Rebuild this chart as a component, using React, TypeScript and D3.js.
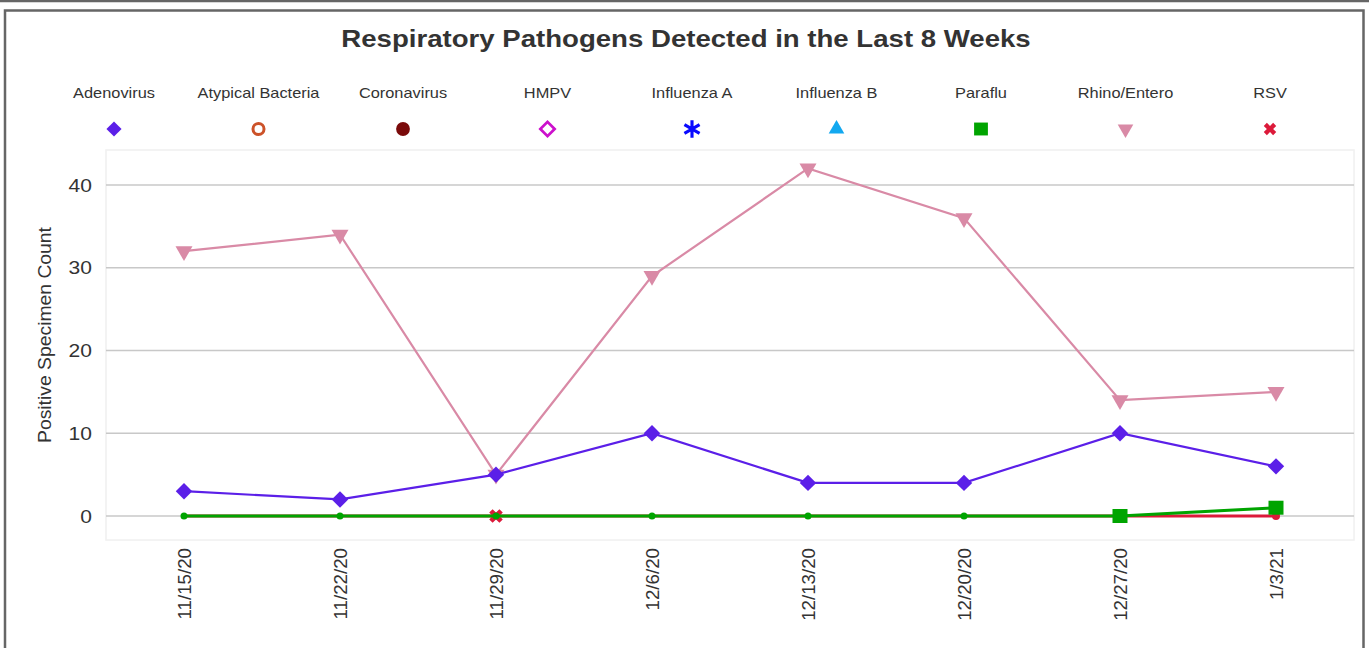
import React from 'react';
import * as d3 from 'd3';

// weeks shown on the x axis
const weeks = ['11/15/20', '11/22/20', '11/29/20', '12/6/20', '12/13/20', '12/20/20', '12/27/20', '1/3/21'];

const adenovirus = [3, 2, 5, 10, 4, 4, 10, 6];
const atypical = [0, 0, 0, 0, 0, 0, 0, 0];
const coronavirus = [0, 0, 0, 0, 0, 0, 0, 0];
const hmpv = [0, 0, 0, 0, 0, 0, 0, 0];
const fluA = [0, 0, 0, 0, 0, 0, 0, 0];
const fluB = [0, 0, 0, 0, 0, 0, 0, 0];
const paraflu = [0, 0, 0, 0, 0, 0, 0, 1];
const rhino = [32, 34, 5, 29, 42, 36, 14, 15];
const rsv = [0, 0, 0, 0, 0, 0, 0, 0];

const yTicks = [0, 10, 20, 30, 40];

const legendNames = ['Adenovirus', 'Atypical Bacteria', 'Coronavirus', 'HMPV', 'Influenza A', 'Influenza B', 'Paraflu', 'Rhino/Entero', 'RSV'];

const W = 1369, H = 648;
const plotLeft = 106, plotRight = 1354, plotTop = 150, plotBottom = 540;
const sx = 1.17; // the original text is drawn a bit wide

const x = d3.scaleBand<string>().domain(weeks).range([plotLeft, plotRight]);
const y = d3.scaleLinear().domain([0, 40]).range([516, 185]);
const cx = (i: number) => (x(weeks[i]) as number) + x.bandwidth() / 2;

const line = d3.line<number>().x((d, i) => cx(i)).y(d => y(d));

const diamond = d3.symbol().type(d3.symbolSquare).size(135)();
const tri = d3.symbol().type(d3.symbolTriangle).size(125)();
const cross = d3.symbol().type(d3.symbolCross).size(115)();

const Marker = ({kind, color, x0, y0, s = 1}: any) => {
  const t = `translate(${x0},${y0}) scale(${s})`;
  switch (kind) {
    case 'diamond':
      return <path d={diamond} transform={`${t} rotate(45)`} fill={color} />;
    case 'ring':
      return <circle cx={x0} cy={y0} r={6 * s} fill="none" stroke={color} strokeWidth={3} />;
    case 'dot':
      return <circle cx={x0} cy={y0} r={7.5 * s} fill={color} />;
    case 'hollowDiamond':
      return <rect x={-5.5} y={-5.5} width={11} height={11} transform={`${t} rotate(45)`} fill="none" stroke={color} strokeWidth={3} />;
    case 'star': {
      const r = 9.5;
      const p = d3.range(3).map(k => {
        const a = (k * Math.PI) / 3 + Math.PI / 2;
        return `M${-r * Math.cos(a)},${-r * Math.sin(a)}L${r * Math.cos(a)},${r * Math.sin(a)}`;
      }).join('');
      return <path d={p} transform={t} stroke={color} strokeWidth={3.4} fill="none" />;
    }
    case 'triUp':
      return <path d={tri} transform={t} fill={color} />;
    case 'square':
      return <rect x={x0 - 7.5 * s} y={y0 - 7 * s} width={15 * s} height={14 * s} fill={color} />;
    case 'triDown':
      return <path d={tri} transform={`${t} rotate(180)`} fill={color} />;
    case 'x':
      return <path d={cross} transform={`${t} rotate(45)`} fill={color} />;
    default:
      return null;
  }
};

const legendStyle = [
  {kind: 'diamond', color: '#5b1fe8'},
  {kind: 'ring', color: '#cc5229'},
  {kind: 'dot', color: '#7a0a0a'},
  {kind: 'hollowDiamond', color: '#cc11cc'},
  {kind: 'star', color: '#0a0aff'},
  {kind: 'triUp', color: '#12a8f0'},
  {kind: 'square', color: '#00a400'},
  {kind: 'triDown', color: '#d98aa6'},
  {kind: 'x', color: '#dc1a3a'},
];

const zeroSeries = [atypical, coronavirus, hmpv, fluA, fluB];

export default function App() {
  const green = '#00a400';
  const red = '#dc1a3a';
  const purple = '#5b1fe8';
  const pink = '#d98aa6';
  const font = 'Arial, "Liberation Sans", sans-serif';
  return (
    <svg width={W} height={H} style={{position: 'absolute', left: 0, top: 0}} fontFamily={font}>
      <rect width={W} height={H} fill="#fff" />
      {/* frame */}
      <line x1={0} x2={W} y1={1} y2={1} stroke="#666" strokeWidth={2.5} />
      <rect x={5} y={10.5} width={1358.5} height={H} fill="none" stroke="#666" strokeWidth={2.5} />

      <text transform={`translate(686,47) scale(1.2,1)`} textAnchor="middle" fontSize={23} fontWeight="bold" fill="#333">
        Respiratory Pathogens Detected in the Last 8 Weeks
      </text>

      {/* legend */}
      {legendNames.map((n, i) => {
        const lx = 114 + i * 144.5;
        return (
          <g key={n}>
            <text transform={`translate(${lx},98) scale(${sx},1)`} textAnchor="middle" fontSize={14} fill="#333">{n}</text>
            <Marker kind={legendStyle[i].kind} color={legendStyle[i].color} x0={lx} y0={129} s={0.92} />
          </g>
        );
      })}

      {/* plot frame */}
      <rect x={plotLeft} y={plotTop} width={plotRight - plotLeft} height={plotBottom - plotTop} fill="none" stroke="#f0f0f0" strokeWidth={1.5} />
      {yTicks.map(t => (
        <g key={t}>
          <line x1={plotLeft} x2={plotRight} y1={y(t)} y2={y(t)} stroke="#c8c8c8" strokeWidth={1.5} />
          <text transform={`translate(92,${y(t) + 6.5}) scale(${sx},1)`} textAnchor="end" fontSize={18} fill="#333">{t}</text>
        </g>
      ))}
      <text transform={`translate(51,335) rotate(-90)`} textAnchor="middle" fontSize={18} textLength={216} lengthAdjust="spacingAndGlyphs" fill="#333">
        Positive Specimen Count
      </text>
      {weeks.map((w, i) => (
        <text key={w} transform={`translate(${cx(i) + 6.5},548) rotate(-90) scale(1.04,1)`} textAnchor="end" fontSize={18} fill="#333">{w}</text>
      ))}

      {/* series */}
      {zeroSeries.map((s, k) => (
        <path key={k} d={line(s) as string} fill="none" stroke={legendStyle[k + 1].color} strokeWidth={2} />
      ))}
      <path d={line(rsv) as string} fill="none" stroke={red} strokeWidth={3} />
      <Marker kind="x" color={red} x0={cx(2)} y0={y(rsv[2])} />
      <circle cx={cx(7)} cy={y(rsv[7])} r={4} fill={red} />
      <path d={line(paraflu) as string} fill="none" stroke={green} strokeWidth={3} />
      {paraflu.map((v, i) => i < 6 ? <circle key={i} cx={cx(i)} cy={y(v)} r={3.5} fill={green} /> : null)}
      <Marker kind="square" color={green} x0={cx(6)} y0={y(paraflu[6])} />
      <Marker kind="square" color={green} x0={cx(7)} y0={y(paraflu[7])} />

      <path d={line(rhino) as string} fill="none" stroke={pink} strokeWidth={2.2} />
      {rhino.map((v, i) => <Marker key={i} kind="triDown" color={pink} x0={cx(i)} y0={y(v)} />)}
      <path d={line(adenovirus) as string} fill="none" stroke={purple} strokeWidth={2.2} />
      {adenovirus.map((v, i) => <Marker key={i} kind="diamond" color={purple} x0={cx(i)} y0={y(v)} />)}
    </svg>
  );
}
